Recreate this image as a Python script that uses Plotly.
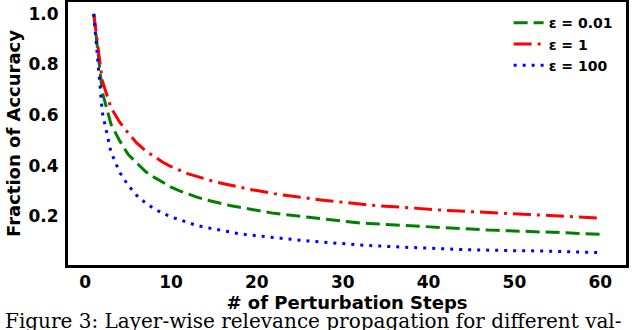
import plotly.graph_objects as go

# perturbation steps on the x axis
steps = list(range(1, 61))

# fraction of accuracy (eps = 0.01, 1, 100)
acc_eps_001 = [1.000, 0.690, 0.565, 0.500, 0.445, 0.410, 0.378, 0.355, 0.334, 0.316,
               0.301, 0.288, 0.276, 0.266, 0.257, 0.249, 0.242, 0.236, 0.230, 0.222,
               0.217, 0.212, 0.208, 0.204, 0.200, 0.196, 0.193, 0.190, 0.186, 0.182,
               0.177, 0.174, 0.172, 0.170, 0.168, 0.166, 0.164, 0.163, 0.160, 0.158,
               0.155, 0.153, 0.151, 0.150, 0.148, 0.147, 0.146, 0.145, 0.144, 0.143,
               0.142, 0.140, 0.139, 0.138, 0.137, 0.135, 0.133, 0.131, 0.130, 0.129]
acc_eps_1 = [1.000, 0.735, 0.630, 0.573, 0.530, 0.490, 0.460, 0.437, 0.415, 0.397,
             0.382, 0.368, 0.358, 0.347, 0.338, 0.330, 0.322, 0.315, 0.308, 0.302,
             0.295, 0.290, 0.285, 0.280, 0.275, 0.271, 0.267, 0.263, 0.260, 0.256,
             0.252, 0.249, 0.245, 0.242, 0.240, 0.238, 0.236, 0.233, 0.230, 0.228,
             0.226, 0.224, 0.222, 0.220, 0.218, 0.216, 0.215, 0.213, 0.212, 0.210,
             0.208, 0.207, 0.205, 0.203, 0.202, 0.200, 0.198, 0.197, 0.196, 0.193]
acc_eps_100 = [1.000, 0.610, 0.455, 0.375, 0.323, 0.283, 0.254, 0.231, 0.213, 0.198,
               0.187, 0.176, 0.164, 0.157, 0.150, 0.143, 0.137, 0.131, 0.127, 0.123,
               0.119, 0.116, 0.112, 0.109, 0.106, 0.103, 0.100, 0.097, 0.094, 0.092,
               0.089, 0.087, 0.085, 0.083, 0.082, 0.081, 0.079, 0.077, 0.076, 0.074,
               0.072, 0.071, 0.070, 0.069, 0.068, 0.067, 0.066, 0.066, 0.065, 0.065,
               0.064, 0.064, 0.063, 0.062, 0.061, 0.060, 0.059, 0.058, 0.058, 0.057]

series_names = ["ε = 0.01", "ε = 1", "ε = 100"]
y_ticks = [0.2, 0.4, 0.6, 0.8, 1.0]
y_labels = ["0.2", "0.4", "0.6", "0.8", "1.0"]

tick_font = dict(family="DejaVu Sans", size=17, color="black", weight="bold")
title_font = dict(family="DejaVu Sans", size=18, color="black", weight="bold")

fig = go.Figure()
fig.add_trace(go.Scatter(x=steps, y=acc_eps_001, name=series_names[0], mode="lines",
                         line=dict(color="green", width=3, dash="14px,6px")))
fig.add_trace(go.Scatter(x=steps, y=acc_eps_1, name=series_names[1], mode="lines",
                         line=dict(color="red", width=3, dash="18px,6px,3px,6px")))
fig.add_trace(go.Scatter(x=steps, y=acc_eps_100, name=series_names[2], mode="lines",
                         line=dict(color="blue", width=3, dash="3px,6px")))

fig.update_layout(
    template="none",
    width=640, height=330,
    margin=dict(l=68, r=14, t=2, b=65, autoexpand=False),
    plot_bgcolor="white", paper_bgcolor="white",
    showlegend=True,
    legend=dict(x=0.985, y=0.98, xanchor="right", yanchor="top",
                font=dict(family="DejaVu Sans", size=14, color="black", weight="bold"),
                bgcolor="rgba(0,0,0,0)", tracegroupgap=0, itemwidth=30),
)
fig.update_xaxes(
    range=[-2, 63], tickmode="linear", tick0=0, dtick=10,
    ticklabelposition="outside", showgrid=False, zeroline=False,
    showline=True, linecolor="black", linewidth=3, mirror=True, automargin=False,
    ticks="", tickfont=tick_font,
    title=dict(text="# of Perturbation Steps", font=title_font, standoff=0),
)
fig.update_yaxes(
    range=[0.008, 1.047], tickmode="array", tickvals=y_ticks, ticktext=y_labels,
    showgrid=False, zeroline=False,
    showline=True, linecolor="black", linewidth=3, mirror=True, automargin=False,
    ticks="outside", ticklen=3, tickcolor="rgba(0,0,0,0)", tickfont=tick_font,
    title=dict(text="Fraction of Accuracy", font=title_font, standoff=4),
)

fig.add_annotation(
    text="Figure 3: Layer-wise relevance propagation for different val-",
    xref="paper", yref="paper", x=-0.1165, y=-0.213, xanchor="left", yanchor="middle",
    showarrow=False, font=dict(family="DejaVu Serif", size=20, color="black"),
)

fig.write_html("out.html", config={"displayModeBar": False},
               post_script="document.body.style.margin = '0';")
